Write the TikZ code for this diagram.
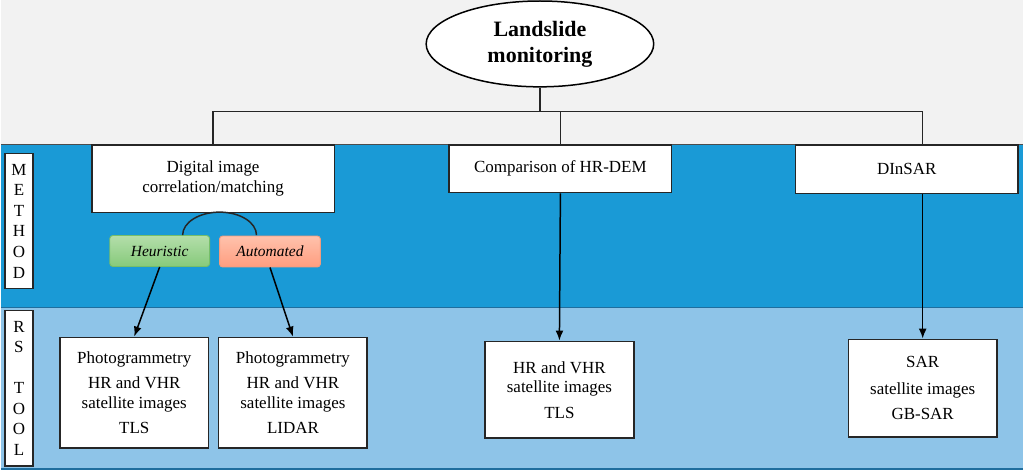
\documentclass[tikz,border=0pt]{standalone}
\usepackage{fontspec}
\setmainfont{Liberation Serif}
\usetikzlibrary{shapes.geometric, arrows.meta, positioning, calc}

\definecolor{bandgray}{HTML}{F2F2F2}
\definecolor{bandblue}{HTML}{1A9AD6}
\definecolor{bandlight}{HTML}{8EC4E8}
\definecolor{bandedge}{HTML}{1F6E9E}
\definecolor{heurtop}{HTML}{B4DEAA}
\definecolor{heurbot}{HTML}{86CA7B}
\definecolor{heuredge}{HTML}{76BE69}
\definecolor{autotop}{HTML}{FFC2AC}
\definecolor{autobot}{HTML}{FF9D7F}
\definecolor{autoedge}{HTML}{F39C7E}

\begin{document}
\begin{tikzpicture}[x=1pt, y=-1pt,
            root/.style={ellipse, draw=black, line width=1.5pt, fill=white, minimum width=228pt, minimum height=86pt, inner sep=0pt, align=center, font=\fontsize{22}{26}\selectfont\bfseries},
            method/.style={rectangle, draw=black!85, line width=1.6pt, fill=white, align=center, font=\fontsize{17}{20}\selectfont},
            tool/.style={method, minimum width=149pt, font=\fontsize{17}{19.5}\selectfont},
            tag/.style={rectangle, rounded corners=3pt, line width=0.9pt, minimum width=100pt, minimum height=31pt, align=center, font=\fontsize{15.5}{18}\selectfont\itshape},
            side/.style={rectangle, draw=black!85, line width=1.6pt, fill=white, minimum width=28pt, inner sep=0pt, align=center, font=\fontsize{17}{20.6}\selectfont},
            link/.style={line width=1.5pt, black!85},
            arrow/.style={-{Latex[length=10pt, width=8pt]}, line width=1.5pt}
        ]

% bands
            \fill[bandgray] (0,0) rectangle (1024,145);
            \fill[bandblue] (0,145) rectangle (1024,308);
            \fill[bandlight] (0,308) rectangle (1024,471);
            \draw[line width=1.4pt, black!70] (0,145) -- (1024,145);
            \draw[line width=1.6pt, bandedge] (0,308) -- (1024,308);
            \draw[line width=2pt, bandedge] (0,470) -- (1024,470);

% side labels
            \node[side, minimum height=135pt] (lmethod) at (18,221.5) {M\\E\\T\\H\\O\\D};
            \node[side, minimum height=156pt] (ltool) at (18,389) {R\\S\\[20.6pt]T\\O\\O\\L};

% root
            \node[root] (root) at (540,44) {Landslide\\monitoring};

% methods
            \node[method, minimum width=243pt, minimum height=68pt] (m1) at (212.5,179) {Digital image\\correlation/matching};
            \node[method, minimum width=223pt, minimum height=48pt] (m2) at (560.5,169) {Comparison of HR-DEM};
            \node[method, minimum width=223pt, minimum height=49pt] (m3) at (907.5,169.5) {DInSAR};

            \node[tag, top color=heurtop, bottom color=heurbot, draw=heuredge] (heur) at (159,251.5) {Heuristic};
            \node[tag, top color=autotop, bottom color=autobot, draw=autoedge, minimum width=101pt] (auto) at (269.5,252) {Automated};

% RS tools
            \node[tool, minimum height=111pt] (toolA) at (133.5,393.5) {Photogrammetry\\[5.5pt]HR and VHR\\satellite images\\[5.5pt]TLS};
            \node[tool, minimum height=111pt] (toolB) at (292.5,393.5) {Photogrammetry\\[5.5pt]HR and VHR\\satellite images\\[5.5pt]LIDAR};
            \node[tool, minimum height=97pt] (toolC) at (559.5,390.5) {HR and VHR\\satellite images\\[6pt]TLS};
            \node[tool, minimum height=98pt] (toolD) at (923.5,389) {SAR\\[7pt]satellite images\\[6pt]GB-SAR};

% tree
            \draw[link] (root.south) -- ++(0,24) coordinate (junc);
            \draw[link] (junc) -| (m1.north);
            \draw[link] (junc) -| (m2.north);
            \draw[link] (junc) -| (toolD.north |- m3.north);

            \draw[link] ([xshift=23pt]heur.north) arc[start angle=180, end angle=0, x radius=37pt, y radius=23pt];

% arrows
            \draw[arrow] (heur.south) -- (toolA.north);
            \draw[arrow] (auto.south) -- (toolB.north);
            \draw[arrow] (m2.south) -- (toolC.north);
            \draw[arrow] (toolD.north |- m3.south) -- (toolD.north);

        \end{tikzpicture}
\end{document}
